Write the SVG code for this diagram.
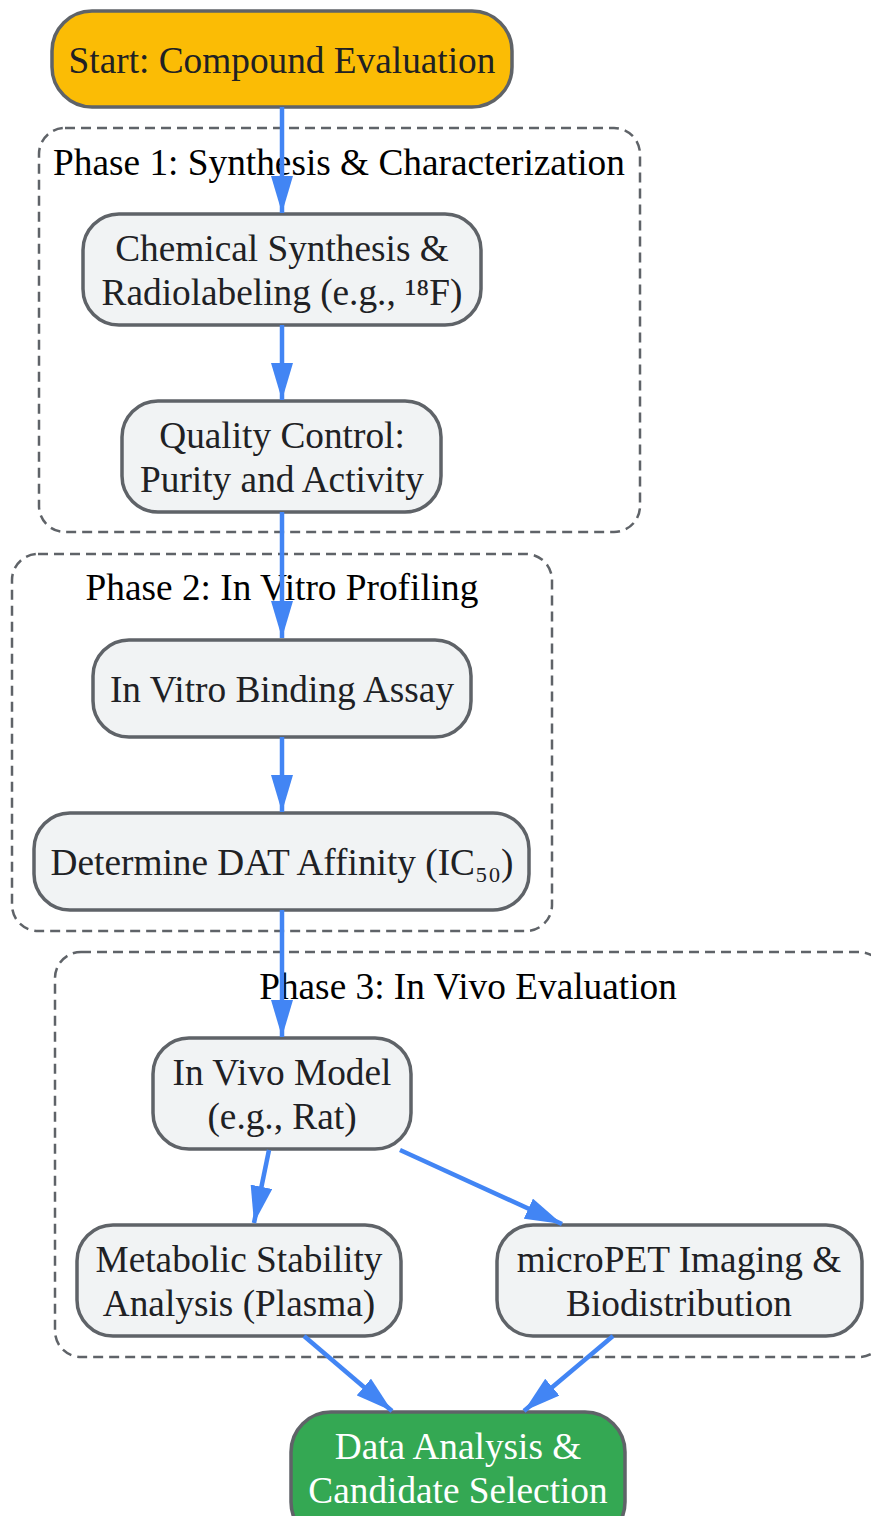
<svg xmlns="http://www.w3.org/2000/svg" width="871" height="1516" viewBox="0 0 871 1516">
<style>
.node rect{stroke:#5f6368;stroke-width:3.5}
.n{fill:#f1f3f4}
.t{font-family:"Liberation Serif","Times New Roman",serif;font-size:37.3px;fill:#202124;text-anchor:middle}
.w{fill:#ffffff}
.cl{fill:none;stroke:#5f6368;stroke-width:2.5;stroke-dasharray:10,6}
.cll{font-family:"Liberation Serif","Times New Roman",serif;font-size:37.3px;fill:#000;text-anchor:middle}
.e{fill:none;stroke:#4285f4;stroke-width:4.5}
</style>
<defs>
<marker id="ah" markerUnits="userSpaceOnUse" markerWidth="37" markerHeight="22" viewBox="0 0 37 22" refX="37" refY="11" orient="auto">
<path d="M0,0 L37,11 L0,22 z" fill="#4285f4"/>
</marker>
</defs>
<g id="clusters">
<g id="phase1"><rect class="cl" x="39" y="128" width="601" height="404" rx="26"/><text class="cll" x="339" y="175">Phase 1: Synthesis &amp; Characterization</text></g>
<g id="phase2"><rect class="cl" x="12" y="554" width="540" height="377" rx="26"/><text class="cll" x="282" y="600">Phase 2: In Vitro Profiling</text></g>
<g id="phase3"><rect class="cl" x="55" y="952" width="830" height="405" rx="26"/><text class="cll" x="468" y="999">Phase 3: In Vivo Evaluation</text></g>
</g>
<g id="nodes">
<g id="start" class="node"><rect x="52" y="11" width="460" height="96" rx="40" fill="#fbbc05"/><text class="t" x="282" y="73">Start: Compound Evaluation</text></g>
<g id="synth" class="node"><rect class="n" x="83" y="214" width="398" height="111" rx="36"/><text class="t" x="282" y="261">Chemical Synthesis &amp;</text><text class="t" x="282" y="305">Radiolabeling (e.g., ¹⁸F)</text></g>
<g id="qc" class="node"><rect class="n" x="122" y="401" width="319" height="111" rx="36"/><text class="t" x="282" y="448">Quality Control:</text><text class="t" x="282" y="492">Purity and Activity</text></g>
<g id="binding" class="node"><rect class="n" x="93" y="640" width="378" height="97" rx="36"/><text class="t" x="282" y="702">In Vitro Binding Assay</text></g>
<g id="affinity" class="node"><rect class="n" x="34" y="813" width="495" height="97" rx="36"/><text class="t" x="282" y="875">Determine DAT Affinity (IC₅₀)</text></g>
<g id="invivo" class="node"><rect class="n" x="153" y="1038" width="258" height="111" rx="36"/><text class="t" x="282" y="1085">In Vivo Model</text><text class="t" x="282" y="1129">(e.g., Rat)</text></g>
<g id="metab" class="node"><rect class="n" x="77" y="1225" width="324" height="111" rx="36"/><text class="t" x="239" y="1272">Metabolic Stability</text><text class="t" x="239" y="1316">Analysis (Plasma)</text></g>
<g id="pet" class="node"><rect class="n" x="497" y="1225" width="365" height="111" rx="36"/><text class="t" x="679" y="1272">microPET Imaging &amp;</text><text class="t" x="679" y="1316">Biodistribution</text></g>
<g id="data" class="node"><rect x="291" y="1412" width="334" height="130" rx="40" fill="#34a853"/><text class="t w" x="458" y="1459">Data Analysis &amp;</text><text class="t w" x="458" y="1503">Candidate Selection</text></g>
</g>
<g id="connectors">
<path class="e" d="M282,107 L282,213" marker-end="url(#ah)"/>
<path class="e" d="M282,325 L282,400" marker-end="url(#ah)"/>
<path class="e" d="M282,512 L282,638" marker-end="url(#ah)"/>
<path class="e" d="M282,737 L282,812" marker-end="url(#ah)"/>
<path class="e" d="M282,910 L282,1037" marker-end="url(#ah)"/>
<path class="e" d="M269,1150 L254,1223" marker-end="url(#ah)"/>
<path class="e" d="M400,1150 L562,1224" marker-end="url(#ah)"/>
<path class="e" d="M304,1336 L392,1411" marker-end="url(#ah)"/>
<path class="e" d="M613,1336 L524,1411" marker-end="url(#ah)"/>
</g>
</svg>
